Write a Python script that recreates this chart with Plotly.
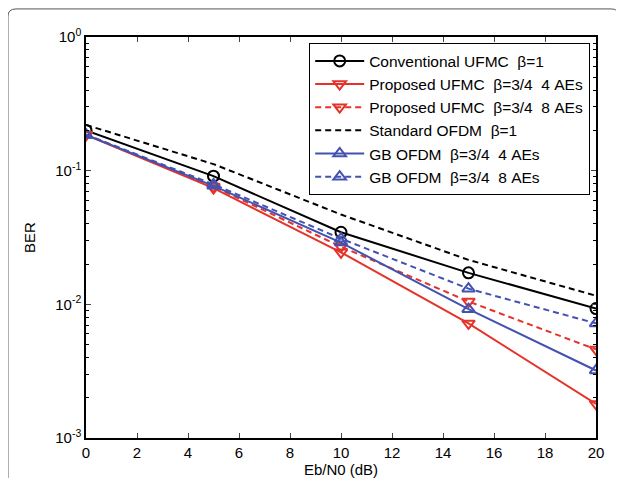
import plotly.graph_objects as go

snr = [0, 5, 10, 15, 20]
conv_ufmc = [0.200, 0.091, 0.0346, 0.0172, 0.0093]
prop_ufmc_4 = [0.185, 0.074, 0.0245, 0.0072, 0.0018]
prop_ufmc_8 = [0.186, 0.076, 0.0270, 0.0105, 0.0046]
std_ofdm = [0.220, 0.112, 0.047, 0.0215, 0.0116]
gb_ofdm_4 = [0.185, 0.077, 0.0290, 0.0092, 0.0032]
gb_ofdm_8 = [0.186, 0.079, 0.0310, 0.0131, 0.0072]

names = ["Conventional UFMC  β=1", "Proposed UFMC  β=3/4  4 AEs", "Proposed UFMC  β=3/4  8 AEs",
         "Standard OFDM  β=1", "GB OFDM  β=3/4  4 AEs", "GB OFDM  β=3/4  8 AEs"]
ytick_vals = [1, 0.1, 0.01, 0.001]
ytick_text = ["10<sup>0</sup>", "10<sup>-1</sup>", "10<sup>-2</sup>", "10<sup>-3</sup>"]
xtick_vals = list(range(0, 21, 2))

RED = "#e5332a"
BLUE = "#4352b0"
BLACK = "#000000"
DASH = "6px,4px"

series = [
    (conv_ufmc, BLACK, "solid", "circle-open"),
    (prop_ufmc_4, RED, "solid", "triangle-down-open"),
    (prop_ufmc_8, RED, DASH, "triangle-down-open"),
    (std_ofdm, BLACK, DASH, None),
    (gb_ofdm_4, BLUE, "solid", "triangle-up-open"),
    (gb_ofdm_8, BLUE, DASH, "triangle-up-open"),
]

fig = go.Figure()
for (vals, col, dash, sym), nm in zip(series, names):
    nm = nm.replace("  ", "\u00a0\u00a0")
    kw = dict(x=snr, y=vals, name=nm, line=dict(color=col, width=2, dash=dash))
    if sym:
        kw["mode"] = "lines+markers"
        kw["marker"] = dict(symbol=sym, size=11, color=col, line=dict(color=col, width=2))
    else:
        kw["mode"] = "lines"
    fig.add_trace(go.Scatter(**kw))

FAM = "Liberation Sans, Arial, sans-serif"
font = dict(family=FAM, size=15, color="black")

fig.update_layout(
    width=624, height=478,
    margin=dict(l=78, r=36, t=29, b=48, autoexpand=False),
    paper_bgcolor="white", plot_bgcolor="white",
    font=font,
    showlegend=True,
    legend=dict(x=0.988, y=0.985, xanchor="right", yanchor="top",
                bordercolor="black", borderwidth=1.3, bgcolor="white",
                font=dict(family=FAM, size=15.5, color="black"),
                itemwidth=49, tracegroupgap=0),
    xaxis=dict(range=[0, 20], tickvals=xtick_vals, ticks="inside", ticklen=5,
               showline=True, linecolor="black", linewidth=1.5, mirror="ticks",
               showgrid=False, zeroline=False, tickfont=font,
               title=dict(text="Eb/N0 (dB)", font=font, standoff=1)),
    yaxis=dict(type="log", range=[-3, 0], tickvals=ytick_vals, ticktext=ytick_text,
               ticks="inside", ticklen=5, showline=True, linecolor="black", linewidth=1.5,
               mirror="ticks", showgrid=False, zeroline=False, tickfont=font,
               minor=dict(ticks="inside", ticklen=3, dtick="D1", showgrid=False, tickcolor="black"),
               title=dict(text="BER", font=font, standoff=16)),
)

fig.add_shape(type="path", xref="paper", yref="paper",
              path="M -0.153,-0.2 L -0.153,1.052 Q -0.153,1.07 -0.137,1.07 L 1.03,1.07 Q 1.045,1.07 1.045,1.052 L 1.045,-0.2",
              line=dict(color="#555555", width=1))

fig.write_html("out.html")
